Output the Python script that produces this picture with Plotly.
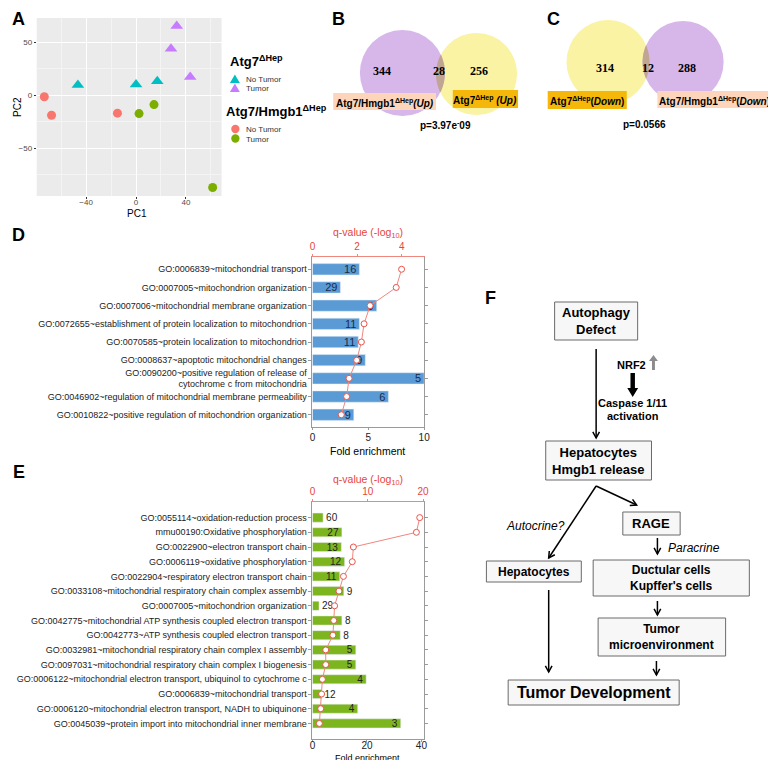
import numpy as np
import plotly.graph_objects as go

W, H = 776, 760
FONT = "Arial, Liberation Sans, sans-serif"

# ---------------- data ----------------
# panel A: PCA
pc1_atg7_no_tumor = [-46.6, 0.0, 17.0]
pc2_atg7_no_tumor = [9.4, 10.0, 13.0]
pc1_atg7_tumor = [32.6, 28.0, 43.4]
pc2_atg7_tumor = [65.0, 43.7, 17.0]
pc1_dko_no_tumor = [-73.5, -67.7, -14.9]
pc2_dko_no_tumor = [-1.6, -19.0, -17.0]
pc1_dko_tumor = [2.4, 14.4, 61.4]
pc2_dko_tumor = [-17.4, -8.9, -87.0]

# panels B / C: venn counts
venn_up = [344, 28, 256]
venn_down = [314, 12, 288]
p_up = "p=3.97e<sup>-</sup>09"
p_down = "p=0.0566"

# panel D
d_terms = [
    "GO:0006839~mitochondrial transport",
    "GO:0007005~mitochondrion organization",
    "GO:0007006~mitochondrial membrane organization",
    "GO:0072655~establishment of protein localization to mitochondrion",
    "GO:0070585~protein localization to mitochondrion",
    "GO:0008637~apoptotic mitochondrial changes",
    "GO:0090200~positive regulation of release of<br>cytochrome c from mitochondria",
    "GO:0046902~regulation of mitochondrial membrane permeability",
    "GO:0010822~positive regulation of mitochondrion organization",
]
d_fold = [4.2, 2.5, 5.75, 4.2, 4.1, 4.73, 10.0, 6.8, 3.7]
d_count = [16, 29, 9, 11, 11, 9, 5, 6, 9]
d_q = [3.99, 3.75, 2.58, 2.31, 2.19, 1.98, 1.64, 1.53, 1.29]

# panel E
e_terms = [
    "GO:0055114~oxidation-reduction process",
    "mmu00190:Oxidative phosphorylation",
    "GO:0022900~electron transport chain",
    "GO:0006119~oxidative phosphorylation",
    "GO:0022904~respiratory electron transport chain",
    "GO:0033108~mitochondrial respiratory chain complex assembly",
    "GO:0007005~mitochondrion organization",
    "GO:0042775~mitochondrial ATP synthesis coupled electron transport",
    "GO:0042773~ATP synthesis coupled electron transport",
    "GO:0032981~mitochondrial respiratory chain complex I assembly",
    "GO:0097031~mitochondrial respiratory chain complex I biogenesis",
    "GO:0006122~mitochondrial electron transport, ubiquinol to cytochrome c",
    "GO:0006839~mitochondrial transport",
    "GO:0006120~mitochondrial electron transport, NADH to ubiquinone",
    "GO:0045039~protein import into mitochondrial inner membrane",
]
e_fold = [3.9, 10.8, 10.6, 11.8, 10.0, 11.5, 2.4, 10.8, 10.2, 15.9, 15.9, 19.7, 3.3, 16.6, 32.4]
e_count = [60, 27, 13, 12, 11, 9, 29, 8, 8, 5, 5, 4, 12, 4, 3]
e_q = [19.4, 18.8, 7.4, 7.2, 5.6, 4.8, 4.0, 3.85, 3.7, 2.4, 2.4, 1.8, 1.65, 1.5, 1.25]
e_textpos = ["outside", "inside", "inside", "inside", "inside", "outside", "outside", "outside",
             "outside", "inside", "inside", "inside", "outside", "inside", "inside"]


def fx(x):
    return x / W


def fy(y):
    return 1 - y / H


fig = go.Figure()

# ---------------- panel A ----------------
pca_groups = [
    (pc1_atg7_no_tumor, pc2_atg7_no_tumor, "triangle-up", "#00BFC4"),
    (pc1_atg7_tumor, pc2_atg7_tumor, "triangle-up", "#C77CFF"),
    (pc1_dko_no_tumor, pc2_dko_no_tumor, "circle", "#F8766D"),
    (pc1_dko_tumor, pc2_dko_tumor, "circle", "#7CAE00"),
]
for xs, ys, sym, col in pca_groups:
    fig.add_trace(go.Scatter(
        x=xs, y=ys, mode="markers", showlegend=False,
        marker=dict(symbol=sym, size=11 if sym != "circle" else 9, color=col),
        xaxis="x", yaxis="y",
    ))

# ---------------- panel D ----------------
fig.add_trace(go.Bar(
    x=d_fold, y=d_terms, orientation="h", marker_color="#5B9BD5", width=0.62,
    text=d_count, textposition="inside", insidetextanchor="end", constraintext="none", textangle=0,
    textfont=dict(size=11, color="#1C2B45"), xaxis="x2", yaxis="y2", showlegend=False,
))
fig.add_trace(go.Scatter(
    x=d_q, y=d_terms, mode="lines+markers", line=dict(color="#F0877F", width=1),
    marker=dict(size=6, color="white", line=dict(color="#E8564D", width=1)),
    xaxis="x3", yaxis="y2", showlegend=False,
))

# ---------------- panel E ----------------
fig.add_trace(go.Bar(
    x=e_fold, y=e_terms, orientation="h", marker_color="#7DB51E", width=0.62,
    text=e_count, textposition=e_textpos, insidetextanchor="end", constraintext="none", textangle=0,
    textfont=dict(size=10, color="#222222"), xaxis="x4", yaxis="y4", showlegend=False, cliponaxis=False,
))
fig.add_trace(go.Scatter(
    x=e_q, y=e_terms, mode="lines+markers", line=dict(color="#F0877F", width=1),
    marker=dict(size=6, color="white", line=dict(color="#E8564D", width=1)),
    xaxis="x5", yaxis="y4", showlegend=False,
))

gray = "#9A9A9A"
red = "#E8453C"
cat_axis = dict(autorange="reversed", showline=True, linecolor=gray, mirror="ticks", ticks="outside",
                ticklen=3, tickcolor=gray, tickfont=dict(size=9, color="#222"), showgrid=False)
fold_axis = dict(showline=True, linecolor=gray, ticks="outside", ticklen=2, tickcolor=gray,
                 tickfont=dict(size=10, color="#222"), showgrid=False, zeroline=False)
q_axis = dict(side="top", showline=True, linecolor="#F0877F", ticks="outside", ticklen=2,
              tickcolor="#F0877F", tickfont=dict(size=10, color=red), showgrid=False, zeroline=False)

fig.update_layout(
    width=W, height=H, margin=dict(l=0, r=0, t=0, b=0),
    paper_bgcolor="white", plot_bgcolor="rgba(0,0,0,0)",
    font=dict(family=FONT, color="black"),
    showlegend=False,
    bargap=0.38,
    xaxis=dict(domain=[fx(26), fx(213)], anchor="y", range=[-79.6, 68.5], tickvals=[-40, 0, 40],
               ticks="outside", ticklen=2, tickcolor="#333", tickfont=dict(size=8, color="#4D4D4D"),
               ticklabelstandoff=-4,
               showgrid=True, gridcolor="white", gridwidth=1, zeroline=False,
               minor=dict(tickvals=[-60, -20, 20, 60], showgrid=True, gridcolor="#F4F4F4", gridwidth=0.5)),
    yaxis=dict(domain=[fy(188), fy(10)], anchor="x", range=[-95, 72.6], tickvals=[-50, 0, 50],
               ticks="outside", ticklen=2, tickcolor="#333", tickfont=dict(size=8, color="#4D4D4D"),
               showgrid=True, gridcolor="white", gridwidth=1, zeroline=False,
               minor=dict(tickvals=[-75, -25, 25], showgrid=True, gridcolor="#F4F4F4", gridwidth=0.5)),
    xaxis2=dict(domain=[fx(305), fx(418)], anchor="y2", range=[0, 10], tickvals=[0, 5, 10],
                ticklabelstandoff=-1, **fold_axis),
    yaxis2=dict(domain=[fy(419), fy(249)], anchor="x2", **cat_axis),
    xaxis3=dict(overlaying="x2", anchor="y2", range=[0, 5], tickvals=[0, 2, 4], **q_axis),
    xaxis4=dict(domain=[fx(305), fx(418)], anchor="y4", range=[0, 41], tickvals=[0, 20, 40],
                ticklabelstandoff=-5, **fold_axis),
    yaxis4=dict(domain=[fy(731), fy(494)], anchor="x4", **cat_axis),
    xaxis5=dict(overlaying="x4", anchor="y4", range=[0, 20.2], tickvals=[0, 10, 20], **q_axis),
)

# grey ggplot panel background for A
fig.add_shape(type="rect", xref="x domain", yref="y domain", x0=0, x1=1, y0=0, y1=1,
              fillcolor="#EBEBEB", line_width=0, layer="below")


def note(x, y, text, size=11, color="black", bold=False, italic=False, serif=False, angle=0, anchor="center"):
    if bold:
        text = "<b>" + text + "</b>"
    if italic:
        text = "<i>" + text + "</i>"
    fig.add_annotation(x=fx(x), y=fy(y), xref="paper", yref="paper", text=text, showarrow=False,
                       textangle=angle, xanchor=anchor, yanchor="middle",
                       font=dict(size=size, color=color,
                                 family="Liberation Serif, Times New Roman, serif" if serif else FONT))


def poly(pts, color):
    path = "M " + " L ".join(f"{fx(px):.5f},{fy(py):.5f}" for px, py in pts) + " Z"
    fig.add_shape(type="path", xref="paper", yref="paper", path=path, fillcolor=color, line_width=0)


def dot(cx, cy, r, color):
    fig.add_shape(type="circle", xref="paper", yref="paper", x0=fx(cx - r), x1=fx(cx + r),
                  y0=fy(cy + r), y1=fy(cy - r), fillcolor=color, line_width=0)


# legend of panel A (ggplot style, two groups)
note(220, 53, "Atg7<sup>ΔHep</sup>", size=13, bold=True, anchor="left")
poly([(221.5, 75), (231.5, 75), (226.5, 66.5)], "#00BFC4")
note(236, 71, "No Tumor", size=8, color="#333", anchor="left")
poly([(221.5, 84), (231.5, 84), (226.5, 75.5)], "#C77CFF")
note(236, 80, "Tumor", size=8, color="#333", anchor="left")
note(216, 103, "Atg7/Hmgb1<sup>ΔHep</sup>", size=13, bold=True, anchor="left")
dot(227, 121, 4.2, "#F8766D")
note(236, 121, "No Tumor", size=8, color="#333", anchor="left")
dot(227, 130.5, 4.2, "#7CAE00")
note(236, 131, "Tumor", size=8, color="#333", anchor="left")

# axis titles
note(127, 205, "PC1", size=10)
note(6, 99, "PC2", size=10, angle=-90)
note(361, 443, "Fold enrichment", size=10.5)
note(361, 750, "Fold enrichment", size=9)
note(361, 225, "q-value (-log<sub>10</sub>)", size=10.5, color=red)
note(361, 472, "q-value (-log<sub>10</sub>)", size=10.5, color=red)

# panel letters
for letter, lx, ly in [("A", 8, 11), ("B", 331, 11), ("C", 549, 11), ("D", 8, 227), ("E", 8, 464), ("F", 485, 290)]:
    note(lx, ly, letter, size=18, bold=True)


# ---------------- venn diagrams ----------------
def circle(cx, cy, r, color):
    fig.add_shape(type="circle", xref="paper", yref="paper", x0=fx(cx - r), x1=fx(cx + r),
                  y0=fy(cy + r), y1=fy(cy - r), fillcolor=color, line_width=0, layer="below")


def lens(c1, r1, c2, r2, color):
    d = np.hypot(c2[0] - c1[0], c2[1] - c1[1])
    phi = np.arctan2(c2[1] - c1[1], c2[0] - c1[0])
    a = (r1 ** 2 - r2 ** 2 + d ** 2) / (2 * d)
    alpha = np.arccos(a / r1)
    beta = np.arccos((d - a) / r2)
    t1 = np.linspace(phi - alpha, phi + alpha, 30)
    t2 = np.linspace(phi + np.pi - beta, phi + np.pi + beta, 30)
    xs = np.concatenate([c1[0] + r1 * np.cos(t1), c2[0] + r2 * np.cos(t2)])
    ys = np.concatenate([c1[1] + r1 * np.sin(t1), c2[1] + r2 * np.sin(t2)])
    path = "M " + " L ".join(f"{fx(x):.5f},{fy(y):.5f}" for x, y in zip(xs, ys)) + " Z"
    fig.add_shape(type="path", xref="paper", yref="paper", path=path, fillcolor=color,
                  line_width=0, layer="below")


def label_box(x0, y0, x1, y1, color, text):
    fig.add_shape(type="rect", xref="paper", yref="paper", x0=fx(x0), x1=fx(x1), y0=fy(y1), y1=fy(y0),
                  fillcolor=color, line_width=0)
    note((x0 + x1) / 2, (y0 + y1) / 2 + 1, text, size=10, bold=True)


purple = "#D7B6EA"
yellow = "#F9F3A3"
overlap = "#BFA592"
peach = "#FCD5BA"
orange = "#F5B80A"

# B
circle(471, 66, 41, yellow)
circle(396, 65, 43, purple)
lens((396, 65), 43, (471, 66), 41, overlap)
note(375, 63, str(venn_up[0]), size=12, bold=True, serif=True)
note(433, 63, str(venn_up[1]), size=12, bold=True, serif=True)
note(473, 63, str(venn_up[2]), size=12, bold=True, serif=True)
label_box(326, 85, 430, 102, peach, "Atg7/Hmgb1<sup>ΔHep</sup><i>(Up)</i>")
label_box(447, 82, 513, 100, orange, "Atg7<sup>ΔHep</sup> <i>(Up)</i>")
note(440, 117, p_up, size=10, bold=True)

# C
circle(604, 54, 42, yellow)
circle(680, 54, 41, purple)
lens((604, 54), 42, (680, 54), 41, overlap)
note(601, 60, str(venn_down[0]), size=12, bold=True, serif=True)
note(644, 60, str(venn_down[1]), size=12, bold=True, serif=True)
note(684, 60, str(venn_down[2]), size=12, bold=True, serif=True)
label_box(543, 83, 623, 101, orange, "Atg7<sup>ΔHep</sup>(<i>Down</i>)")
label_box(654, 83, 769, 100, peach, "Atg7/Hmgb1<sup>ΔHep</sup>(<i>Down</i>)")
note(641, 117, p_down, size=10, bold=True)


# ---------------- panel F: diagram ----------------
def box(x0, y0, x1, y1, text, size=12):
    fig.add_shape(type="rect", xref="paper", yref="paper", x0=fx(x0), x1=fx(x1), y0=fy(y1), y1=fy(y0),
                  fillcolor="#F7F7F7", line=dict(color="#6A6A6A", width=1))
    note((x0 + x1) / 2, (y0 + y1) / 2, text, size=size, bold=True)


def arrow(x0, y0, x1, y1, width=1.5, head=7):
    fig.add_shape(type="line", xref="paper", yref="paper", x0=fx(x0), y0=fy(y0), x1=fx(x1), y1=fy(y1),
                  line=dict(color="black", width=width))
    ang = np.arctan2(y1 - y0, x1 - x0)
    pts = []
    for s in (1, -1):
        a = ang + np.pi + s * 0.5
        pts.append((x1 + head * np.cos(a), y1 + head * np.sin(a)))
    path = (f"M {fx(pts[0][0]):.5f},{fy(pts[0][1]):.5f} L {fx(x1):.5f},{fy(y1):.5f} "
            f"L {fx(pts[1][0]):.5f},{fy(pts[1][1]):.5f}")
    fig.add_shape(type="path", xref="paper", yref="paper", path=path, line=dict(color="black", width=width))


def block_arrow(x, y_tail, y_head, shaft, head_w, head_len, color):
    s = 1 if y_head > y_tail else -1
    yb = y_head - s * head_len
    poly([(x - shaft / 2, y_tail), (x - shaft / 2, yb), (x - head_w / 2, yb), (x, y_head),
          (x + head_w / 2, yb), (x + shaft / 2, yb), (x + shaft / 2, y_tail)], color)


box(550, 294, 634, 332, "Autophagy<br>Defect", size=13)
box(541, 433, 648, 472, "Hepatocytes<br>Hmgb1 release", size=13)
box(619, 504, 677, 527, "RAGE", size=13)
box(481, 553, 577, 574, "Hepatocytes", size=12)
box(589, 552, 747, 588, "Ductular cells<br>Kupffer's cells", size=12)
box(594, 610, 723, 648, "Tumor<br>microenvironment", size=12)
box(503, 672, 676, 697, "Tumor Development", size=16)

arrow(592, 341, 592, 430)
note(628, 357, "NRF2", size=11, bold=True)
block_arrow(650, 362, 347, 3, 9, 6, "#8C8C8C")
block_arrow(629, 365, 389, 4.5, 11, 9, "black")
note(629, 395, "Caspase 1/11", size=11, bold=True)
note(629, 408, "activation", size=11, bold=True)

arrow(592, 478, 544, 550)
arrow(592, 478, 633, 497)
note(531, 518, "Autocrine?", size=12, italic=True)
arrow(654, 530, 654, 546)
note(691, 540, "Paracrine", size=12, italic=True)
arrow(654, 593, 654, 607)
arrow(653, 653, 653, 667)
arrow(544, 582, 544, 664)

fig.write_html("out.html")
